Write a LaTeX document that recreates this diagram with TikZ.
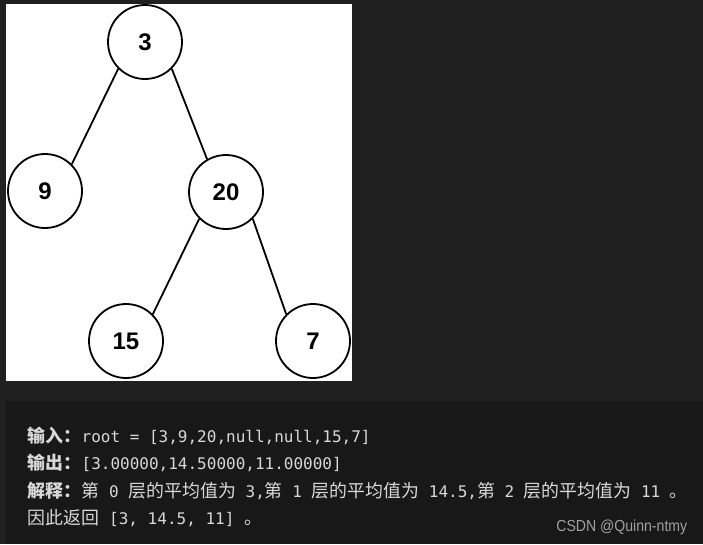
\documentclass[tikz,border=0pt]{standalone}
\usepackage{fontspec}
\setmainfont{Liberation Sans}
\newfontfamily\codefont{DejaVu Sans Mono}
\newfontfamily\cjk{Noto Sans CJK SC}[Scale=1.12]
\definecolor{pagebg}{HTML}{202020}
\definecolor{codebg}{HTML}{181818}
\definecolor{codetext}{HTML}{D8D8D8}
\definecolor{marktext}{HTML}{A0A0A0}
\tikzset{
  treenode/.style={draw, circle, line width=1.8pt, minimum size=74pt, inner sep=0pt,
    font=\fontsize{24}{24}\selectfont\bfseries},
  codeline/.style={anchor=base west, inner sep=0pt, text=codetext,
    font=\fontsize{16}{16}\selectfont\codefont},
}
\begin{document}
\begin{tikzpicture}[x=1pt, y=-1pt, line width=1.8pt]
\fill[pagebg] (0,0) rectangle (703,544);
\fill[white] (6,4) rectangle (352,381);
\fill[codebg] (6,401) rectangle (703,544);
\useasboundingbox (0,0) rectangle (703,544);

\node[treenode] (n3) at (145,42) {3};
\node[treenode] (n9) at (45,191) {9};
\node[treenode] (n20) at (226,192) {20};
\node[treenode] (n15) at (126,341) {15};
\node[treenode] (n7) at (313,341) {7};

\draw (n3.south west) -- (n9.north east);
\draw (n3.south east) -- (n20.120);
\draw (n20.south west) -- (n15.north east);
\draw (n20.south east) -- (n7.north west);

\node[codeline] (input) at (27,442) {{\cjk\bfseries 输入：}root = [3,9,20,null,null,15,7]};
\node[codeline] (output) at (27,469) {{\cjk\bfseries 输出：}[3.00000,14.50000,11.00000]};
\node[codeline] (explain) at (27,497) {{\cjk\bfseries 解释：}{\cjk 第} 0 {\cjk 层的平均值为} 3,{\cjk 第} 1 {\cjk 层的平均值为} 14.5,{\cjk 第} 2 {\cjk 层的平均值为} 11 {\cjk 。}};
\node[codeline] (result) at (27,524) {{\cjk 因此返回} [3, 14.5, 11] {\cjk 。}};

\node[anchor=base east, inner sep=0pt, text=marktext, font=\fontsize{16}{16}\selectfont,
  xscale=0.88, transform shape] (mark) at (688,531) {CSDN @Quinn-ntmy};
\end{tikzpicture}
\end{document}
